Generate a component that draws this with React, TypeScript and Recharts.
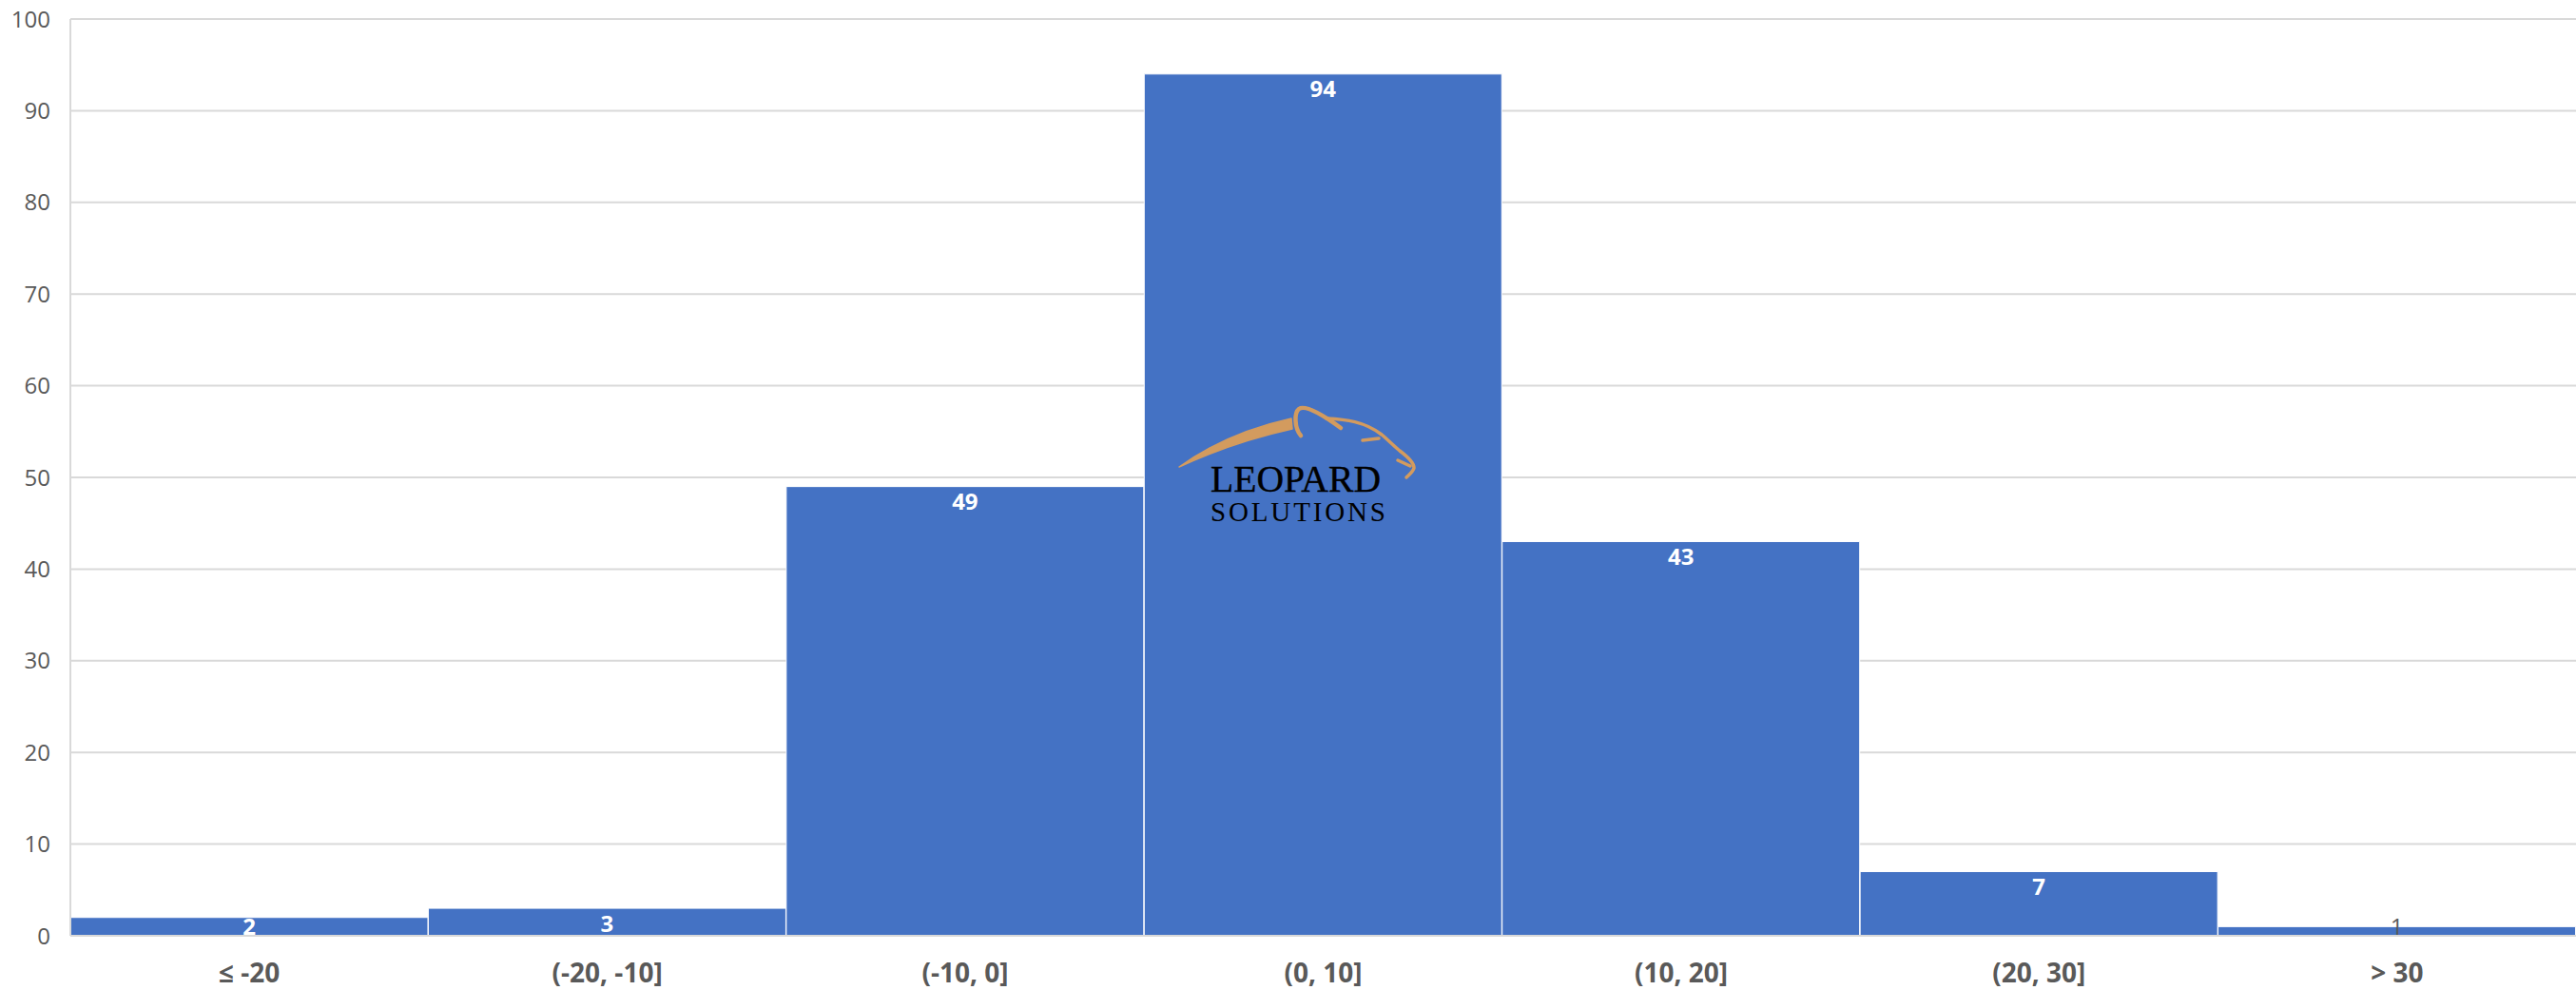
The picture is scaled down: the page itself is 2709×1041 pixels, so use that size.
import React from 'react';
import { BarChart, Bar, XAxis, YAxis, CartesianGrid, LabelList } from 'recharts';

const categories = ['≤ -20', '(-20, -10]', '(-10, 0]', '(0, 10]', '(10, 20]', '(20, 30]', '> 30'];
const counts = [2, 3, 49, 94, 43, 7, 1];
const yTicks = [0, 10, 20, 30, 40, 50, 60, 70, 80, 90, 100];

const data = categories.map((c, i) => ({ bin: c, count: counts[i] }));

const FONT = '"Open Sans", "Liberation Sans", sans-serif';

const BarLabel = (props: any) => {
  const x = Number(props.x);
  const y = Number(props.y);
  const width = Number(props.width);
  const height = Number(props.height);
  const zeroY = y + height;
  const cy = Math.min(y + 15, zeroY - 11);
  const inside = height >= 15;
  return (
    <text
      x={x + width / 2}
      y={cy}
      textAnchor="middle"
      dominantBaseline="central"
      fill={inside ? '#ffffff' : '#595959'}
      fontWeight={inside ? 700 : 400}
      fontSize={24}
      fontFamily={FONT}
    >
      {props.value}
    </text>
  );
};

const Logo = () => (
  <svg
    width={2709}
    height={1041}
    style={{ position: 'absolute', left: 0, top: 0, pointerEvents: 'none' }}
  >
    <g fill="none" stroke="#D39B5E" strokeLinecap="round" strokeLinejoin="round">
      <path d="M1240,491 Q1290,455 1358,440 L1359,451 Q1296,465 1240,491 Z" fill="#D39B5E" strokeWidth={1.5} />
      <path d="M1368,458 C1361,450 1361,434 1366,430 C1372,426 1388,434 1410,450" strokeWidth={4.5} />
      <path d="M1395,440 C1415,441 1435,443 1453,457 C1460,463 1466,469 1472,474 C1480,480 1487,486 1487,492 C1486,496 1482,499 1479,502" strokeWidth={3.5} />
      <path d="M1433,463 L1450,461" strokeWidth={3.5} />
      <path d="M1470,484 L1483,490" strokeWidth={3.5} />
    </g>
    <text x={1273} y={517} fontFamily='"Liberation Serif", "DejaVu Serif", serif' fontSize={41} fill="#000" stroke="#000" strokeWidth={0.4} textLength={179} lengthAdjust="spacingAndGlyphs">LEOPARD</text>
    <text x={1273} y={548} fontFamily='"Liberation Serif", "DejaVu Serif", serif' fontSize={29} fill="#000" textLength={184} lengthAdjust="spacing">SOLUTIONS</text>
  </svg>
);

export default function App() {
  return (
    <div style={{ position: 'absolute', left: 0, top: 0, width: 2709, height: 1041, background: '#fff' }}>
      <BarChart
        width={2709}
        height={1041}
        data={data}
        margin={{ top: 20, right: 0, bottom: 0, left: 0 }}
        barCategoryGap={0}
        barGap={0}
      >
        <CartesianGrid vertical={false} stroke="#d9d9d9" strokeWidth={2} />
        <YAxis
          width={74}
          domain={[0, 100]}
          ticks={yTicks}
          interval={0}
          tickLine={false}
          tickSize={0}
          tickMargin={21}
          axisLine={{ stroke: '#d9d9d9', strokeWidth: 2 }}
          tick={{ fill: '#595959', fontSize: 24, fontFamily: FONT }}
        />
        <XAxis
          dataKey="bin"
          height={57}
          interval={0}
          tickLine={false}
          tickSize={0}
          tickMargin={29}
          axisLine={{ stroke: '#d9d9d9', strokeWidth: 2 }}
          tick={{ fill: '#595959', fontSize: 28, fontWeight: 700, fontFamily: FONT }}
        />
        <Bar dataKey="count" fill="#4472C4" stroke="#ffffff" strokeWidth={1} isAnimationActive={false}>
          <LabelList dataKey="count" content={BarLabel} />
        </Bar>
      </BarChart>
      <Logo />
    </div>
  );
}
